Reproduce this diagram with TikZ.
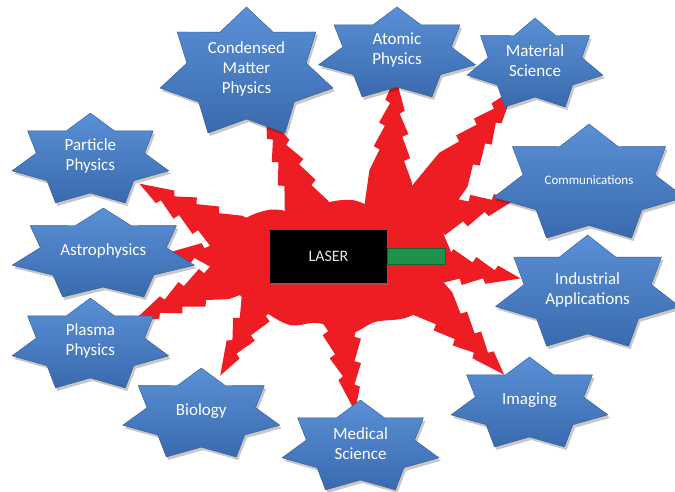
\documentclass[tikz,border=0pt]{standalone}
\usepackage{fontspec}
\setmainfont{Carlito}
\usetikzlibrary{calc, positioning, shadows}

\definecolor{burst}{HTML}{EE1D23}
\definecolor{startop}{HTML}{5A90D6}
\definecolor{starbottom}{HTML}{3A6AAE}
\definecolor{beam}{HTML}{1E924A}

\pgfdeclarelayer{background}
\pgfsetlayers{background,main}

\tikzset{
  topic/.style={text=white, align=center, font=\fontsize{17}{20}\selectfont},
  starfill/.style={top color=startop, bottom color=starbottom, draw=starbottom!85!black, line width=0.4pt, line join=round},
  starshade/.style={fill=black, opacity=0.22},
  laserbox/.style={fill=black, minimum width=117pt, minimum height=53pt, text=black!10,
    font=\fontsize{16}{19}\selectfont, drop shadow={opacity=0.35, shadow xshift=1pt, shadow yshift=-1.5pt}},
  beambox/.style={fill=beam, draw=beam!70!black, line width=0.3pt, minimum width=58pt, minimum height=16pt, inner sep=0pt},
}

% seven-pointed star with its label: name, x, y, x radius, y radius, text
\newcommand{\topicstar}[6]{%
  \fill[starshade, shift={(#2+2,#3+3)}] (90:#4pt and #5pt)
    \foreach \k in {0,...,6} {
      -- ({115.714+\k*51.4286}:{0.69*#4pt} and {0.69*#5pt})
      -- ({141.4286+\k*51.4286}:#4pt and #5pt)} -- cycle;
  \path[starfill, shift={(#2,#3)}] (90:#4pt and #5pt)
    \foreach \k in {0,...,6} {
      -- ({115.714+\k*51.4286}:{0.69*#4pt} and {0.69*#5pt})
      -- ({141.4286+\k*51.4286}:#4pt and #5pt)} -- cycle;
  \node[topic] (#1) at (#2,#3-4) {#6};
}

% jagged ray: from, to, distance of the tip from the star centre
\newcommand{\zap}[3]{%
  \coordinate (#2-tip) at ($(#2)!#3!(#1)$);
  \fill[burst] ($(#1)!26pt!-90:(#2-tip)$)
    -- ($(#2-tip)!105pt!(#1)!22pt!90:(#1)$)
    -- ($(#2-tip)!84pt!(#1)!13pt!90:(#1)$)
    -- ($(#2-tip)!81pt!(#1)!19pt!90:(#1)$)
    -- ($(#2-tip)!60pt!(#1)!10pt!90:(#1)$)
    -- ($(#2-tip)!57pt!(#1)!16pt!90:(#1)$)
    -- ($(#2-tip)!37pt!(#1)!6pt!90:(#1)$)
    -- ($(#2-tip)!34pt!(#1)!11pt!90:(#1)$)
    -- (#2-tip)
    -- ($(#2-tip)!24pt!(#1)!9pt!-90:(#1)$)
    -- ($(#2-tip)!27pt!(#1)!4pt!-90:(#1)$)
    -- ($(#2-tip)!47pt!(#1)!14pt!-90:(#1)$)
    -- ($(#2-tip)!50pt!(#1)!8pt!-90:(#1)$)
    -- ($(#2-tip)!71pt!(#1)!18pt!-90:(#1)$)
    -- ($(#2-tip)!74pt!(#1)!12pt!-90:(#1)$)
    -- ($(#2-tip)!95pt!(#1)!21pt!-90:(#1)$)
    -- ($(#1)!26pt!90:(#2-tip)$) -- cycle;
}

\begin{document}
\begin{tikzpicture}[x=1pt, y=-1pt]
  \useasboundingbox (0,0) rectangle (675,491);

  \node[laserbox] (laser) at (328.5,256.5) {LASER};
  \node[beambox, right=0pt of laser] (beam) {};

  \topicstar{cond}{246.5}{73.3}{88.7}{66.3}{Condensed\\Matter\\Physics}
  \topicstar{atomic}{397}{54.3}{80.6}{47.3}{Atomic\\Physics}
  \topicstar{matsci}{535}{64.8}{69.7}{46.8}{Material\\Science}
  \topicstar{comm}{589}{184}{98}{60}{\fontsize{13}{16}\selectfont Communications}
  \topicstar{indus}{587.6}{293.5}{94.5}{58.5}{Industrial\\Applications}
  \topicstar{imaging}{529.5}{404.3}{80.5}{47.3}{Imaging}
  \topicstar{med}{360.5}{447.3}{80.5}{47.3}{Medical\\Science}
  \topicstar{bio}{201.3}{414.8}{80.6}{46.8}{Biology}
  \topicstar{plasma}{90.4}{345.3}{80.4}{47.3}{Plasma\\Physics}
  \topicstar{astro}{103.3}{254.8}{93.6}{46.8}{Astrophysics}
  \topicstar{part}{90.4}{160.3}{80.4}{47.3}{Particle\\Physics}

  \begin{pgfonlayer}{background}
    \fill[white] (0,0) rectangle (675,491);
    \foreach \s/\t/\d in {laser/cond/48pt, laser.north east/atomic/26pt,
        laser.east/matsci/36pt, laser.north east/comm/72pt, laser.east/indus/68pt,
        laser.east/imaging/36pt, laser/med/32pt, laser.south west/bio/40pt,
        laser.west/plasma/48pt, laser.west/astro/64pt, laser.west/part/56pt}
      {\zap{\s}{\t}{\d}}
    % the burst around the laser
    \fill[burst] plot[smooth cycle, tension=0.6] coordinates {
      (228,262) (238,225) (268,210) (300,212) (325,203) (352,200) (378,208)
      (405,203) (432,215) (446,240) (452,262) (440,285) (430,305) (405,318)
      (375,322) (350,333) (318,323) (290,325) (262,310) (240,295)};
  \end{pgfonlayer}
\end{tikzpicture}
\end{document}
